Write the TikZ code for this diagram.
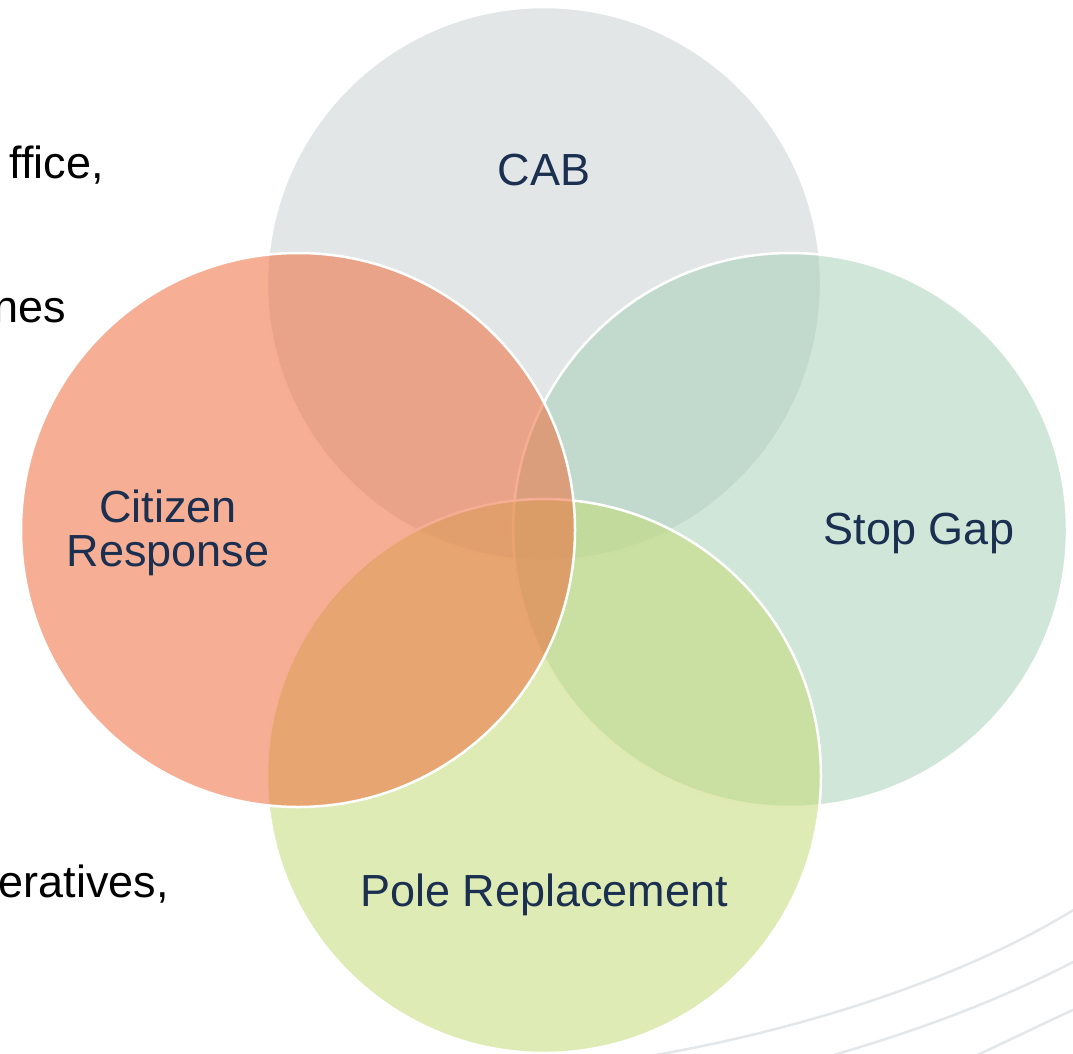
\documentclass[tikz,border=0pt]{standalone}
\usepackage{fontspec}
\setmainfont{Liberation Sans}
\definecolor{cabC}{RGB}{202,209,211}
\definecolor{citC}{RGB}{239,108,60}
\definecolor{stopC}{RGB}{168,210,184}
\definecolor{poleC}{RGB}{197,218,118}
\definecolor{labC}{RGB}{27,48,80}
\definecolor{arcC}{RGB}{227,231,234}
\begin{document}
\begin{tikzpicture}[x=1pt,y=-1pt,
  venn/.style={circle,minimum size=554pt,inner sep=0pt,draw=white,line width=2.5pt,fill opacity=0.55},
  lab/.style={text=labC,font=\fontsize{45}{44}\selectfont,align=center,inner sep=0pt},
  side/.style={text=black,font=\fontsize{45}{44}\selectfont,inner sep=0pt,anchor=base east},
  arc/.style={draw=arcC,line width=2.5pt}]
\useasboundingbox (0,0) rectangle (1073,1054);
\clip (0,0) rectangle (1073,1054);
% background arcs
\coordinate (a1s) at (650,1056);
\coordinate (a1e) at (1075,909);
\coordinate (a2s) at (830,1056);
\coordinate (a2e) at (1075,961);
\coordinate (a3s) at (975,1056);
\coordinate (a3e) at (1075,1009);
\draw[arc] (a1s) .. controls (800,1030) and (960,980) .. (a1e);
\draw[arc] (a2s) .. controls (920,1030) and (1000,1000) .. (a2e);
\draw[arc] (a3s) .. controls (1010,1040) and (1040,1025) .. (a3e);
% side texts
\node[side] (t1) at (104,178) {ffice,};
\node[side] (t2) at (66,322) {nes};
\node[side] (t3) at (169,897) {eratives,};
% circles
\node[venn,fill=cabC] (cab) at (544,284) {};
\node[venn,fill=stopC] (stop) at (790,530) {};
\node[venn,fill=poleC] (pole) at (544,776) {};
\node[venn,fill=citC] (cit) at (298,530) {};
% labels
\node[lab,anchor=base] (lcab) at (544,185) {CAB};
\node[lab,anchor=base] (lcit) at (168,566) {Citizen\\Response};
\node[lab,anchor=base] (lstop) at (919,544) {Stop Gap};
\node[lab,anchor=base] (lpole) at (544,906) {Pole Replacement};
\end{tikzpicture}
\end{document}
